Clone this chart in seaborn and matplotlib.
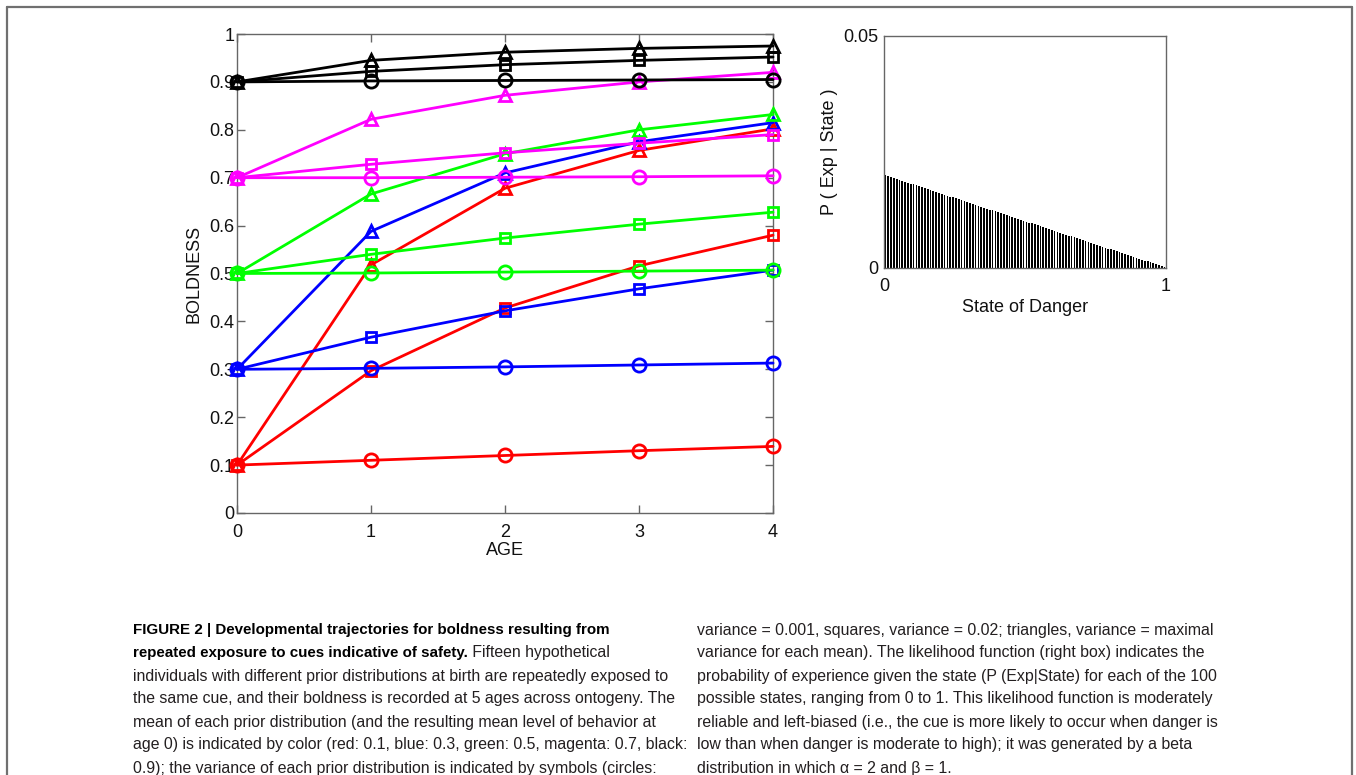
import numpy as np
import pandas as pd
import matplotlib
matplotlib.use("Agg")
import matplotlib.pyplot as plt
import seaborn as sns
from matplotlib.lines import Line2D

# ---------------- data ----------------
ages = [0, 1, 2, 3, 4]

red_circles = [0.100, 0.110, 0.120, 0.130, 0.139]
red_squares = [0.100, 0.297, 0.428, 0.516, 0.580]
red_triangles = [0.100, 0.518, 0.678, 0.757, 0.802]

blue_circles = [0.300, 0.302, 0.305, 0.309, 0.313]
blue_squares = [0.300, 0.367, 0.422, 0.468, 0.507]
blue_triangles = [0.300, 0.588, 0.710, 0.775, 0.815]

green_circles = [0.500, 0.501, 0.503, 0.505, 0.507]
green_squares = [0.500, 0.540, 0.574, 0.603, 0.628]
green_triangles = [0.500, 0.666, 0.750, 0.800, 0.832]

magenta_circles = [0.700, 0.700, 0.701, 0.702, 0.704]
magenta_squares = [0.700, 0.728, 0.752, 0.772, 0.790]
magenta_triangles = [0.700, 0.822, 0.872, 0.900, 0.920]

black_circles = [0.900, 0.902, 0.903, 0.904, 0.905]
black_squares = [0.900, 0.922, 0.936, 0.945, 0.952]
black_triangles = [0.900, 0.945, 0.962, 0.970, 0.975]

means = ["red", "blue", "green", "magenta", "black"]
variances = ["circles", "squares", "triangles"]
yticks = [0, 0.1, 0.2, 0.3, 0.4, 0.5, 0.6, 0.7, 0.8, 0.9, 1]
ytick_labels = ["0", "0.1", "0.2", "0.3", "0.4", "0.5", "0.6", "0.7", "0.8", "0.9", "1"]

# likelihood P(Exp | State) for 100 states
states = np.round(np.arange(100) * 0.01 + 0.005, 3)
likelihood = [
    0.0200, 0.0198, 0.0196, 0.0194, 0.0192, 0.0190, 0.0188, 0.0186, 0.0184, 0.0182,
    0.0180, 0.0178, 0.0176, 0.0174, 0.0172, 0.0170, 0.0168, 0.0166, 0.0164, 0.0162,
    0.0160, 0.0158, 0.0156, 0.0154, 0.0152, 0.0150, 0.0148, 0.0146, 0.0144, 0.0142,
    0.0140, 0.0138, 0.0136, 0.0134, 0.0132, 0.0130, 0.0128, 0.0126, 0.0124, 0.0122,
    0.0120, 0.0118, 0.0116, 0.0114, 0.0112, 0.0110, 0.0108, 0.0106, 0.0104, 0.0102,
    0.0100, 0.0098, 0.0096, 0.0094, 0.0092, 0.0090, 0.0088, 0.0086, 0.0084, 0.0082,
    0.0080, 0.0078, 0.0076, 0.0074, 0.0072, 0.0070, 0.0068, 0.0066, 0.0064, 0.0062,
    0.0060, 0.0058, 0.0056, 0.0054, 0.0052, 0.0050, 0.0048, 0.0046, 0.0044, 0.0042,
    0.0040, 0.0038, 0.0036, 0.0034, 0.0032, 0.0030, 0.0028, 0.0026, 0.0024, 0.0022,
    0.0020, 0.0018, 0.0016, 0.0014, 0.0012, 0.0010, 0.0008, 0.0006, 0.0004, 0.0002,
]

series = {
    ("red", "circles"): red_circles, ("red", "squares"): red_squares, ("red", "triangles"): red_triangles,
    ("blue", "circles"): blue_circles, ("blue", "squares"): blue_squares, ("blue", "triangles"): blue_triangles,
    ("green", "circles"): green_circles, ("green", "squares"): green_squares, ("green", "triangles"): green_triangles,
    ("magenta", "circles"): magenta_circles, ("magenta", "squares"): magenta_squares, ("magenta", "triangles"): magenta_triangles,
    ("black", "circles"): black_circles, ("black", "squares"): black_squares, ("black", "triangles"): black_triangles,
}
rows = []
for (m, v), vals in series.items():
    for a, b in zip(ages, vals):
        rows.append({"age": a, "boldness": b, "mean": m, "variance": v})
df = pd.DataFrame(rows)

# ---------------- style ----------------
sns.set_theme(style="white")
plt.rcParams["font.family"] = ["Liberation Sans", "DejaVu Sans"]

palette = {"red": "#ff0000", "blue": "#0000ff", "green": "#00ff00",
           "magenta": "#ff00ff", "black": "#000000"}
marker_map = {"circles": "o", "squares": "s", "triangles": "^"}
msize = {"circles": 9.5, "squares": 6.5, "triangles": 9}
spine_col = "#666666"
tick_fs = 13
lab_col = "#111111"

fig = plt.figure(figsize=(13.56, 7.75), dpi=100)

# ---------------- left panel ----------------
ax = fig.add_axes([0.1748, 0.3381, 0.3953, 0.6180])
for (m, v) in series.keys():
    sub = df[(df["mean"] == m) & (df["variance"] == v)]
    sns.lineplot(data=sub, x="age", y="boldness", color=palette[m], marker=marker_map[v],
                 markersize=msize[v], markerfacecolor="none", markeredgecolor=palette[m],
                 markeredgewidth=2.0, linewidth=2.0, ax=ax, legend=False, errorbar=None,
                 clip_on=False)

ax.set_xlim(0, 4)
ax.set_ylim(0, 1)
ax.set_xticks(ages)
ax.set_xticklabels([str(a) for a in ages])
ax.set_yticks(yticks)
ax.set_yticklabels(ytick_labels)
ax.tick_params(axis="both", direction="in", length=6, width=1, color=spine_col,
               labelsize=tick_fs, labelcolor=lab_col, top=True, right=True, bottom=True, left=True)
ax.tick_params(axis="y", pad=2)
ax.tick_params(axis="x", pad=8)
ax.set_xlabel("AGE", fontsize=tick_fs, labelpad=1, color=lab_col)
ax.set_ylabel("BOLDNESS", fontsize=tick_fs, labelpad=5, color=lab_col)
for s in ax.spines.values():
    s.set_color(spine_col)
    s.set_linewidth(1)
    s.set_visible(True)
    s.set_zorder(0.5)

# ---------------- right panel ----------------
ax2 = fig.add_axes([0.6519, 0.6542, 0.2080, 0.2994])
sns.barplot(x=states, y=likelihood, native_scale=True, orient="x", color="black",
            width=0.6, edgecolor="none", saturation=1, errorbar=None, ax=ax2)
ax2.set_xlim(0, 1)
ax2.set_ylim(0, 0.05)
ax2.set_xticks([0, 1])
ax2.set_xticklabels(["0", "1"])
ax2.set_yticks([0, 0.05])
ax2.set_yticklabels(["0", "0.05"])
ax2.tick_params(axis="both", direction="in", length=0, labelsize=tick_fs, labelcolor=lab_col)
ax2.tick_params(axis="y", pad=4)
ax2.tick_params(axis="x", pad=7)
ax2.set_xlabel("State of Danger", fontsize=tick_fs, labelpad=3, color=lab_col)
ax2.set_ylabel("P ( Exp | State )", fontsize=tick_fs, labelpad=4, color=lab_col)
for s in ax2.spines.values():
    s.set_color(spine_col)
    s.set_linewidth(1)
    s.set_visible(True)

# ---------------- border ----------------
bc = "#707070"
fig.add_artist(Line2D([7 / 1356, 1352 / 1356], [1 - 7 / 775, 1 - 7 / 775], transform=fig.transFigure, color=bc, lw=1.6))
fig.add_artist(Line2D([7 / 1356, 7 / 1356], [0, 1 - 7 / 775], transform=fig.transFigure, color=bc, lw=1.6))
fig.add_artist(Line2D([1352 / 1356, 1352 / 1356], [0, 1 - 7 / 775], transform=fig.transFigure, color=bc, lw=1.6))

# ---------------- caption ----------------
bold_fs = 10.9
cap_fs = 11.4
txt_col = "#231f20"
left_x = 133 / 1356
right_x = 697 / 1356
line_y = [630, 653, 676, 699, 722, 745, 768]

def fy(py):
    return 1 - py / 775

fig.text(left_x, fy(line_y[0]), "FIGURE 2 | Developmental trajectories for boldness resulting from",
         fontsize=bold_fs, fontweight="bold", color="black", va="center")
t_bold = fig.text(left_x, fy(line_y[1]), "repeated exposure to cues indicative of safety.",
                  fontsize=bold_fs, fontweight="bold", color="black", va="center")
fig.canvas.draw()
bb = t_bold.get_window_extent(renderer=fig.canvas.get_renderer())
fig.text(bb.x1 / fig.bbox.width, fy(line_y[1]), " Fifteen hypothetical",
         fontsize=cap_fs, color=txt_col, va="center")

left_lines = [
    "individuals with different prior distributions at birth are repeatedly exposed to",
    "the same cue, and their boldness is recorded at 5 ages across ontogeny. The",
    "mean of each prior distribution (and the resulting mean level of behavior at",
    "age 0) is indicated by color (red: 0.1, blue: 0.3, green: 0.5, magenta: 0.7, black:",
    "0.9); the variance of each prior distribution is indicated by symbols (circles:",
]
for i, s in enumerate(left_lines):
    fig.text(left_x, fy(line_y[i + 2]), s, fontsize=cap_fs, color=txt_col, va="center")

right_lines = [
    "variance = 0.001, squares, variance = 0.02; triangles, variance = maximal",
    "variance for each mean). The likelihood function (right box) indicates the",
    "probability of experience given the state (P (Exp|State) for each of the 100",
    "possible states, ranging from 0 to 1. This likelihood function is moderately",
    "reliable and left-biased (i.e., the cue is more likely to occur when danger is",
    "low than when danger is moderate to high); it was generated by a beta",
    "distribution in which \u03b1 = 2 and \u03b2 = 1.",
]
for i, s in enumerate(right_lines):
    fig.text(right_x, fy(line_y[i]), s, fontsize=cap_fs, color=txt_col, va="center")

fig.savefig("out.png", dpi=100)
